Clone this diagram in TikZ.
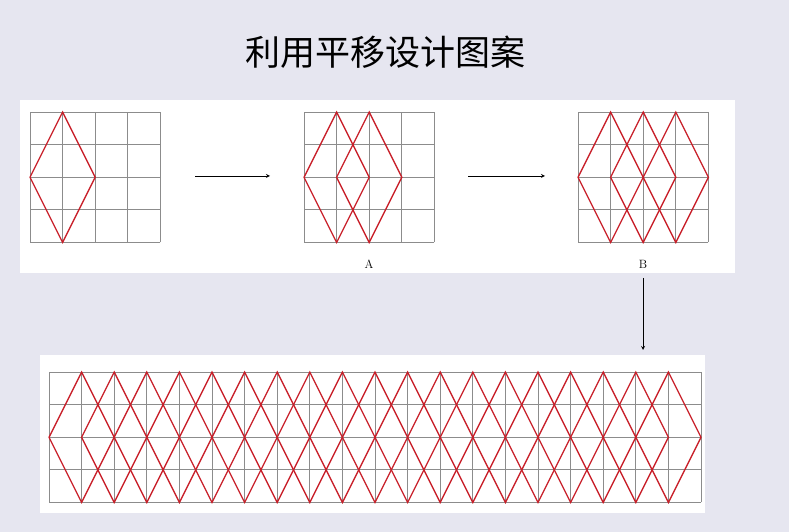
\documentclass[tikz,border=0pt]{standalone}
\usepackage{fontspec}
\newfontfamily\cjk{Noto Sans CJK SC}
\usetikzlibrary{positioning}

\definecolor{bgpurple}{RGB}{230,230,240}
\definecolor{gridgray}{RGB}{140,140,140}
\definecolor{lozred}{RGB}{200,30,40}

\tikzset{
  gridline/.style={gridgray, line width=1pt},
  lozenge/.style={lozred, line width=1.3pt, line join=miter},
  panel/.style={fill=white, draw=none},
  step arrow/.style={-stealth, line width=0.8pt},
}

% grid of #3 x 4 cells, lower-left corner at (#1,#2)
\newcommand{\cellgrid}[3]{%
  \foreach \i in {0,...,#3} {\draw[gridline] (#1+\i*32.6,#2) -- ++(0,130.4);}
  \foreach \j in {0,...,4} {\draw[gridline] (#1,#2+\j*32.6) -- ++(#3*32.6,0);}
}
% #3 lozenges, left one starting at (#1,#2)
\newcommand{\lozrow}[3]{%
  \foreach \k in {1,...,#3} {
    \draw[lozenge] (#1+\k*32.6-32.6,#2+65.2) -- ++(32.6,65.2) -- ++(32.6,-65.2)
      -- ++(-32.6,-65.2) -- cycle;
  }
}

\begin{document}
\begin{tikzpicture}[x=1pt,y=1pt]
  \useasboundingbox (0,0) rectangle (789,532);
  \fill[bgpurple] (0,0) rectangle (789,532);

  % title
  \node[font=\cjk\fontsize{35}{40}\selectfont] (title) at (385,480) {利用平移设计图案};

  % --------------------
  % Top panel
  % --------------------
  \fill[panel] (20,259) rectangle (735,432);
  \cellgrid{30}{289.5}{4}
  \lozrow{30}{289.5}{1}
  \cellgrid{304}{289.5}{4}
  \lozrow{304}{289.5}{2}
  \cellgrid{578}{289.5}{4}
  \lozrow{578}{289.5}{3}

  \node[font=\large] (labA) at (369,268) {A};
  \node[font=\large] (labB) at (643,268) {B};

  \coordinate (a1) at (195,356);
  \coordinate (a2) at (270,356);
  \coordinate (b1) at (468,356);
  \coordinate (b2) at (545,356);
  \draw[step arrow] (a1) -- (a2);
  \draw[step arrow] (b1) -- (b2);

  % --------------------
  % Bottom strip
  % --------------------
  \fill[panel] (40,19) rectangle (705,177);
  \cellgrid{49}{29.5}{20}
  \lozrow{49}{29.5}{19}

  \coordinate (c1) at (643,254);
  \coordinate (c2) at (643,182);
  \draw[step arrow] (c1) -- (c2);
\end{tikzpicture}
\end{document}
